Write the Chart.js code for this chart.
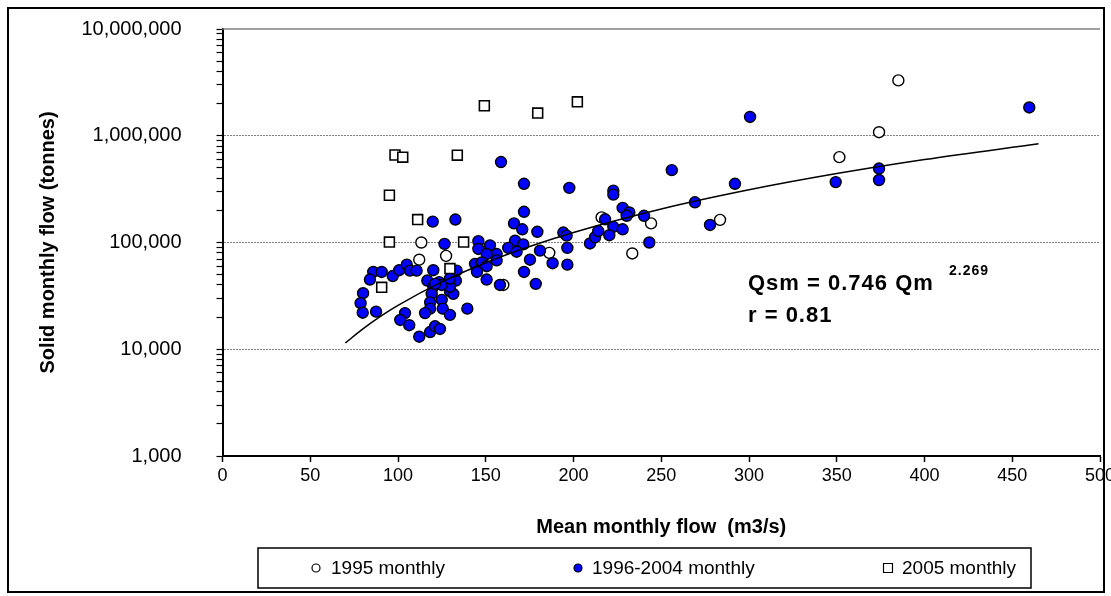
<!DOCTYPE html>
<html>
<head>
<meta charset="utf-8">
<title>Solid monthly flow vs mean monthly flow</title>
<script src="https://cdn.jsdelivr.net/npm/chart.js@4.4.1/dist/chart.umd.min.js"></script>
<style>
    html, body { margin: 0; padding: 0; background: #ffffff; }
    #wrap { width: 1111px; height: 596px; position: relative; }
</style>
</head>
<body>
<div id="wrap"><canvas id="flowChart"></canvas></div>
<script>

/*
    Data
*/

const seriesNames = ["1995 monthly", "1996-2004 monthly", "2005 monthly"];

const flow1995  = [113.3, 112.1, 127.4, 160, 186.2, 216, 244.2, 233.5, 283.5, 351.5, 374.1, 385.1];
const solid1995 = [100000, 69000, 75000, 40000, 80000, 172000, 151000, 79000, 163000, 630000, 1080000, 3300000];

const flowMain = [
    119.8, 132.7, 158.7, 171.8, 171.8, 166.1, 170.8, 179.4, 194.2, 196.1,
    197.6, 166.7, 171.4, 162.8, 167.6, 156.2, 180.9, 196.5, 196.5, 175.2,
    188.1, 171.8, 178.5, 158.1, 209.4, 212.3, 214.1, 222.7, 222.7, 228,
    231.8, 230.3, 240.2, 218, 222.7, 228, 220.4, 243.2, 256, 269.2,
    277.8, 292, 300.6, 349.4, 374.1, 374.1, 459.7, 126.5, 145.8, 145.8,
    152.4, 150.5, 143.9, 147.7, 150.5, 145, 150.5, 85.9, 90.7, 84,
    80.1, 78.7, 79.9, 87.5, 97, 100.7, 105, 106.8, 110.6, 120.1,
    116.7, 120.1, 123.5, 119.2, 118.3, 118.3, 115.4, 124.9, 125.5, 129.6,
    104, 101.3, 106.4, 112.1, 118.3, 121.1, 123.9, 129.6, 131.5, 133,
    133.4, 129.6, 139.5, 124.9, 121.1, 156.2, 129.6
];
const solidMain = [
    157000, 164000, 567000, 355000, 194000, 151000, 133000, 126000, 124000, 116000,
    325000, 104000, 96000, 89000, 82000, 78000, 84000, 89000, 62000, 69000,
    64000, 53000, 41000, 40000, 98000, 112000, 128000, 306000, 281000, 211000,
    191000, 178000, 178000, 165000, 140000, 133000, 117000, 100000, 476000, 238000,
    146000, 355000, 1500000, 368000, 493000, 385000, 1840000, 97000, 103000, 87000,
    94000, 78000, 63000, 65000, 60000, 53000, 45000, 53000, 53000, 45000,
    33500, 27000, 22000, 22500, 48500, 55000, 62000, 54500, 54500, 55000,
    44000, 38500, 42500, 33000, 27500, 24000, 21800, 29000, 24000, 21000,
    21800, 18800, 16800, 13100, 14500, 16400, 15500, 35000, 33000, 44000,
    54500, 38500, 24000, 40000, 41000, 68000, 46000
];

const flow2005  = [95.1, 98.3, 102.7, 111.2, 95.1, 137.4, 129.6, 90.7, 133.8, 149.2, 179.6, 202.2];
const solid2005 = [277000, 660000, 630000, 164000, 101000, 101000, 57000, 38000, 658000, 1910000, 1630000, 2080000];

const trendFlow  = [70, 80, 90, 100, 125, 150, 175, 200, 250, 300, 350, 400, 465];
const trendSolid = [11455, 15509, 20301, 25747, 42716, 64640, 91736, 124194, 206050, 311750, 442300, 599000, 842300];

const yMajorTicks = [1000, 10000, 100000, 1000000, 10000000];

const xTitle = "Mean monthly flow  (m3/s)";
const yTitle = "Solid monthly flow (tonnes)";

const equationText = "Qsm = 0.746 Qm";
const exponentText = "2.269";
const correlationText = "r = 0.81";

/*
    Helpers
*/

const FONT = 'Arial, "Liberation Sans", sans-serif';

function toPoints(xs, ys) {
    return xs.map((x, i) => ({ x: x, y: ys[i] }));
}

// log minor ticks 1..9 per decade
const yTickValues = [];
for (let d = 0; d < yMajorTicks.length - 1; d++) {
    for (let k = 1; k < 10; k++) {
        yTickValues.push(yMajorTicks[d] * k);
    }
}
yTickValues.push(yMajorTicks[yMajorTicks.length - 1]);

/*
    Frame, equation and legend box
*/

const framePlugin = {

    id: "frame",

    afterDraw(chart) {

        const ctx = chart.ctx;
        const area = chart.chartArea;

        ctx.save();

        // plot area top line
        ctx.strokeStyle = "#808080";
        ctx.lineWidth = 1.5;
        ctx.beginPath();
        ctx.moveTo(area.left, area.top);
        ctx.lineTo(area.right, area.top);
        ctx.stroke();

        // outer border
        ctx.strokeStyle = "#000000";
        ctx.lineWidth = 2;
        ctx.strokeRect(8, 8, 1096, 584);

        // equation
        ctx.fillStyle = "#000000";
        ctx.textBaseline = "alphabetic";
        ctx.textAlign = "left";
        ctx.letterSpacing = "1px";
        ctx.font = "bold 22px " + FONT;
        ctx.fillText(equationText, 748, 290);
        ctx.fillText(correlationText, 748, 322);
        ctx.font = "bold 14px " + FONT;
        ctx.fillText(exponentText, 949, 275);
        ctx.letterSpacing = "0px";

        // legend
        ctx.lineWidth = 1.5;
        ctx.strokeRect(258, 548, 773, 40);

        const markX = [316, 578, 888];
        const textX = [331, 592, 902];
        const cy = 568;

        ctx.font = "19px " + FONT;
        ctx.textBaseline = "middle";

        chart.data.datasets.forEach((ds, i) => {

            if (i > 2) {
                return;
            }

            ctx.lineWidth = 1.2;
            ctx.strokeStyle = "#000000";
            ctx.fillStyle = ds.backgroundColor;

            ctx.beginPath();

            if (ds.pointStyle === "rect") {
                ctx.rect(markX[i] - 4.5, cy - 4.5, 9, 9);
            } else {
                ctx.arc(markX[i], cy, 4, 0, Math.PI * 2);
            }

            ctx.fill();
            ctx.stroke();

            ctx.fillStyle = "#000000";
            ctx.fillText(ds.label, textX[i], cy + 1);

        });

        ctx.restore();

    }

};

/*
    Chart
*/

const canvas = document.getElementById("flowChart");

new Chart(canvas, {

    type: "scatter",

    data: {

        datasets: [

            {
                label: seriesNames[0],
                data: toPoints(flow1995, solid1995),
                pointStyle: "circle",
                pointRadius: 5.5,
                backgroundColor: "#ffffff",
                borderColor: "#000000",
                borderWidth: 1.4,
                order: 4
            },

            {
                label: seriesNames[1],
                data: toPoints(flowMain, solidMain),
                pointStyle: "circle",
                pointRadius: 5.5,
                backgroundColor: "#0000ff",
                borderColor: "#000000",
                borderWidth: 1.4,
                order: 3
            },

            {
                label: seriesNames[2],
                data: toPoints(flow2005, solid2005),
                pointStyle: "rect",
                pointRadius: 7,
                backgroundColor: "#ffffff",
                borderColor: "#000000",
                borderWidth: 1.6,
                order: 2
            },

            {
                label: "Power trend",
                data: toPoints(trendFlow, trendSolid),
                showLine: true,
                pointRadius: 0,
                borderColor: "#000000",
                borderWidth: 1.5,
                cubicInterpolationMode: "monotone",
                fill: false,
                order: 1
            }

        ]

    },

    options: {

        responsive: true,
        maintainAspectRatio: false,
        animation: false,
        devicePixelRatio: 1,

        layout: {
            padding: { top: 29, right: 11, bottom: 50, left: 0 }
        },

        plugins: {
            legend: { display: false },
            tooltip: { enabled: false }
        },

        scales: {

            x: {
                type: "linear",
                min: 0,
                max: 500,
                ticks: {
                    stepSize: 50,
                    autoSkip: false,
                    maxRotation: 0,
                    padding: 3,
                    color: "#000000",
                    font: { family: FONT, size: 18 }
                },
                grid: {
                    drawOnChartArea: false,
                    drawTicks: true,
                    tickLength: 6,
                    tickColor: "#000000",
                    tickWidth: 1.5
                },
                border: { color: "#000000", width: 2 },
                title: {
                    display: true,
                    text: xTitle,
                    color: "#000000",
                    font: { family: FONT, size: 20, weight: "bold" },
                    padding: { top: 4, bottom: 7 }
                },
                afterFit(scale) {
                    scale.height = 90;
                    scale.paddingLeft = 0;
                    scale.paddingRight = 0;
                }
            },

            y: {
                type: "logarithmic",
                min: 1000,
                max: 10000000,
                afterBuildTicks(scale) {
                    scale.ticks = yTickValues.map(v => ({ value: v }));
                },
                ticks: {
                    autoSkip: false,
                    padding: 35,
                    color: "#000000",
                    font: { family: FONT, size: 20 },
                    callback: value => yMajorTicks.includes(value) ? value.toLocaleString("en-US") : ""
                },
                grid: {
                    drawOnChartArea: true,
                    tickLength: 6,
                    tickColor: "#000000",
                    tickWidth: 1.2,
                    lineWidth: 1,
                    color: ctx => {
                        const v = ctx.tick ? ctx.tick.value : 0;
                        return (yMajorTicks.includes(v) && v > 1000 && v < 10000000) ? "#808080" : "rgba(0,0,0,0)";
                    }
                },
                border: { color: "#000000", width: 2, dash: [2, 1] },
                title: {
                    display: true,
                    text: yTitle,
                    color: "#000000",
                    font: { family: FONT, size: 20, weight: "bold" },
                    padding: { top: 36, bottom: 0 }
                },
                afterFit(scale) {
                    scale.width = 222.5;
                    scale.paddingTop = 0;
                    scale.paddingBottom = 0;
                }
            }

        }

    },

    plugins: [framePlugin]

});

</script>
</body>
</html>
